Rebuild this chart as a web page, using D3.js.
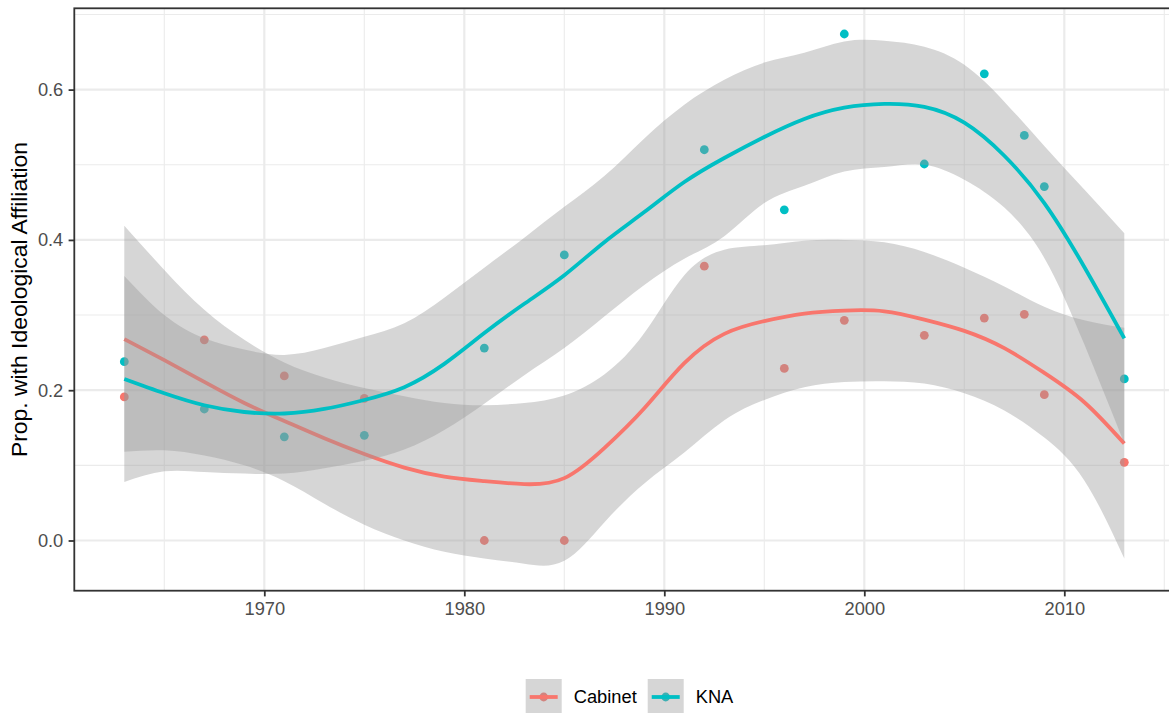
<!DOCTYPE html>
<html>
<head>
<meta charset="utf-8">
<script src="https://cdn.jsdelivr.net/npm/d3@7"></script>
<style>
  body { margin: 0; background: #fff; }
  svg { display: block; font-family: "Liberation Sans", Arial, Helvetica, sans-serif; }
</style>
</head>
<body>
<svg id="chart" width="1169" height="713"></svg>
<script>
// observed proportions per survey year
const years   = [1963, 1967, 1971, 1975, 1981, 1985, 1992, 1996, 1999, 2003, 2006, 2008, 2009, 2013];
const cabinet = [0.191, 0.267, 0.219, 0.189, 0, 0, 0.365, 0.229, 0.293, 0.273, 0.296, 0.301, 0.194, 0.104];
const kna     = [0.238, 0.175, 0.138, 0.140, 0.256, 0.380, 0.520, 0.440, 0.674, 0.501, 0.621, 0.539, 0.471, 0.215];

// loess fits and 95% bands, every two years
const smoothYears = [1963, 1965, 1967, 1969, 1971, 1973, 1975, 1977, 1979, 1981, 1983, 1985, 1987,
                     1989, 1991, 1993, 1995, 1997, 1999, 2001, 2003, 2005, 2007, 2009, 2011, 2013];
const cabFit = [0.268, 0.240, 0.211, 0.183, 0.159, 0.136, 0.115, 0.097, 0.085, 0.079, 0.075, 0.083, 0.123,
                0.176, 0.236, 0.275, 0.292, 0.302, 0.306, 0.305, 0.294, 0.279, 0.256, 0.223, 0.184, 0.129];
const cabHi  = [0.419, 0.360, 0.307, 0.267, 0.237, 0.217, 0.203, 0.192, 0.183, 0.180, 0.183, 0.193, 0.221,
                0.276, 0.353, 0.387, 0.393, 0.399, 0.400, 0.397, 0.384, 0.363, 0.338, 0.311, 0.293, 0.283];
const cabLo  = [0.118, 0.120, 0.113, 0.100, 0.079, 0.049, 0.021, 0.000, -0.015, -0.024, -0.031, -0.027, 0.024,
                0.076, 0.117, 0.160, 0.187, 0.204, 0.211, 0.212, 0.209, 0.196, 0.173, 0.137, 0.080, -0.024];
const knaFit = [0.215, 0.196, 0.180, 0.171, 0.169, 0.175, 0.187, 0.204, 0.235, 0.276, 0.315, 0.353, 0.397,
                0.437, 0.477, 0.509, 0.537, 0.561, 0.576, 0.581, 0.577, 0.556, 0.512, 0.449, 0.364, 0.269];
const knaHi  = [0.352, 0.300, 0.269, 0.254, 0.247, 0.256, 0.271, 0.289, 0.323, 0.363, 0.403, 0.444, 0.485,
                0.535, 0.580, 0.613, 0.636, 0.649, 0.664, 0.665, 0.657, 0.633, 0.584, 0.525, 0.467, 0.409];
const knaLo  = [0.078, 0.092, 0.091, 0.089, 0.089, 0.096, 0.106, 0.121, 0.147, 0.182, 0.220, 0.256, 0.298,
                0.340, 0.375, 0.405, 0.449, 0.472, 0.491, 0.497, 0.500, 0.480, 0.443, 0.376, 0.261, 0.129];

const seriesNames = ["Cabinet", "KNA"];
const xMajor = [1970, 1980, 1990, 2000, 2010];
const xMinor = [1965, 1975, 1985, 1995, 2005, 2015];
const yMajor = [0, 0.2, 0.4, 0.6];
const yMinor = [0.1, 0.3, 0.5, 0.7];

const colors = d3.scaleOrdinal().domain(seriesNames).range(["#F8766D", "#00BFC4"]);

const series = [
    { name: "Cabinet", values: cabinet, fit: cabFit, lo: cabLo, hi: cabHi },
    { name: "KNA", values: kna, fit: knaFit, lo: knaLo, hi: knaHi },
];

// panel box (right edge runs past the window, as in the original export)
const panel = { left: 74.3, top: 8.3, right: 1174.3, bottom: 590.7 };

const x = d3.scaleLinear().domain([1960.5, 2015.5]).range([panel.left, panel.right]);
const y = d3.scaleLinear().domain([-0.0668, 0.7082]).range([panel.bottom, panel.top]);

const svg = d3.select("#chart");
svg.append("rect").attr("width", 1169).attr("height", 713).attr("fill", "#fff");

svg.append("clipPath").attr("id", "panel-clip")
    .append("rect")
    .attr("x", panel.left).attr("y", panel.top)
    .attr("width", panel.right - panel.left).attr("height", panel.bottom - panel.top);

const grid = svg.append("g");
grid.selectAll(".xminor").data(xMinor).join("line")
    .attr("x1", d => x(d)).attr("x2", d => x(d))
    .attr("y1", panel.top).attr("y2", panel.bottom)
    .attr("stroke", "#EBEBEB").attr("stroke-width", 1.1);
grid.selectAll(".yminor").data(yMinor).join("line")
    .attr("x1", panel.left).attr("x2", panel.right)
    .attr("y1", d => y(d)).attr("y2", d => y(d))
    .attr("stroke", "#EBEBEB").attr("stroke-width", 1.1);
grid.selectAll(".xmajor").data(xMajor).join("line")
    .attr("x1", d => x(d)).attr("x2", d => x(d))
    .attr("y1", panel.top).attr("y2", panel.bottom)
    .attr("stroke", "#EBEBEB").attr("stroke-width", 2.2);
grid.selectAll(".ymajor").data(yMajor).join("line")
    .attr("x1", panel.left).attr("x2", panel.right)
    .attr("y1", d => y(d)).attr("y2", d => y(d))
    .attr("stroke", "#EBEBEB").attr("stroke-width", 2.2);

const plot = svg.append("g").attr("clip-path", "url(#panel-clip)");

// points first, smooths drawn over them
series.forEach(s => {
    plot.append("g").selectAll("circle")
        .data(years.map((yr, i) => ({ yr, v: s.values[i] })))
        .join("circle")
        .attr("cx", d => x(d.yr))
        .attr("cy", d => y(d.v))
        .attr("r", 4.4)
        .attr("fill", colors(s.name));
});

const area = d3.area()
    .x(d => x(d.yr)).y0(d => y(d.lo)).y1(d => y(d.hi))
    .curve(d3.curveNatural);
const line = d3.line()
    .x(d => x(d.yr)).y(d => y(d.fit))
    .curve(d3.curveNatural);

series.forEach(s => {
    const rows = smoothYears.map((yr, i) => ({ yr, fit: s.fit[i], lo: s.lo[i], hi: s.hi[i] }));
    plot.append("path")
        .attr("d", area(rows))
        .attr("fill", "#999999").attr("fill-opacity", 0.4);
    plot.append("path")
        .attr("d", line(rows))
        .attr("fill", "none")
        .attr("stroke", colors(s.name))
        .attr("stroke-width", 3.8);
});

// panel border
svg.append("rect")
    .attr("x", panel.left).attr("y", panel.top)
    .attr("width", panel.right - panel.left).attr("height", panel.bottom - panel.top)
    .attr("fill", "none").attr("stroke", "#333333").attr("stroke-width", 1.8);

// axes
const yAxis = svg.append("g")
    .attr("transform", `translate(${panel.left},0)`)
    .call(d3.axisLeft(y).tickValues(yMajor).tickFormat(d3.format(".1f")).tickSize(5.7).tickPadding(5.3));
const xAxis = svg.append("g")
    .attr("transform", `translate(0,${panel.bottom})`)
    .call(d3.axisBottom(x).tickValues(xMajor).tickFormat(d3.format("d")).tickSize(5.7).tickPadding(5.5));

[yAxis, xAxis].forEach(ax => {
    ax.select(".domain").remove();
    ax.selectAll(".tick line").attr("stroke", "#333333").attr("stroke-width", 1.8);
    ax.selectAll(".tick text")
        .attr("fill", "#4D4D4D")
        .style("font-size", "18.3px")
        .style("font-family", "'Liberation Sans', Arial, Helvetica, sans-serif");
});

svg.append("text")
    .attr("transform", `translate(27,${(panel.top + panel.bottom) / 2}) rotate(-90)`)
    .attr("text-anchor", "middle")
    .attr("fill", "#000")
    .style("font-size", "22.9px")
    .text("Prop. with Ideological Affiliation");

// legend along the bottom
const keySize = 36;
const legend = svg.append("g").attr("transform", "translate(0,679)");
const items = legend.selectAll("g").data(seriesNames).join("g");

items.append("rect")
    .attr("width", keySize).attr("height", keySize)
    .attr("fill", "#fff");
items.append("circle")
    .attr("cx", keySize / 2).attr("cy", keySize / 2).attr("r", 4.4)
    .attr("fill", d => colors(d));
items.append("rect")
    .attr("width", keySize).attr("height", keySize)
    .attr("fill", "#999999").attr("fill-opacity", 0.4);
items.append("line")
    .attr("x1", 4).attr("x2", keySize - 4)
    .attr("y1", keySize / 2).attr("y2", keySize / 2)
    .attr("stroke", d => colors(d)).attr("stroke-width", 3.8);
items.append("text")
    .attr("x", keySize + 12)
    .attr("y", keySize / 2)
    .attr("dy", "0.35em")
    .attr("fill", "#000")
    .style("font-size", "18.3px")
    .text(d => d);

// lay the keys out from their text widths and centre the group
let cursor = 0;
items.each(function () {
    const w = keySize + 12 + this.querySelector("text").getComputedTextLength();
    d3.select(this).attr("transform", `translate(${cursor},0)`);
    cursor += w + 11;
});
const legendWidth = cursor - 11;
legend.attr("transform", `translate(${629.5 - legendWidth / 2},679)`);
</script>
</body>
</html>
